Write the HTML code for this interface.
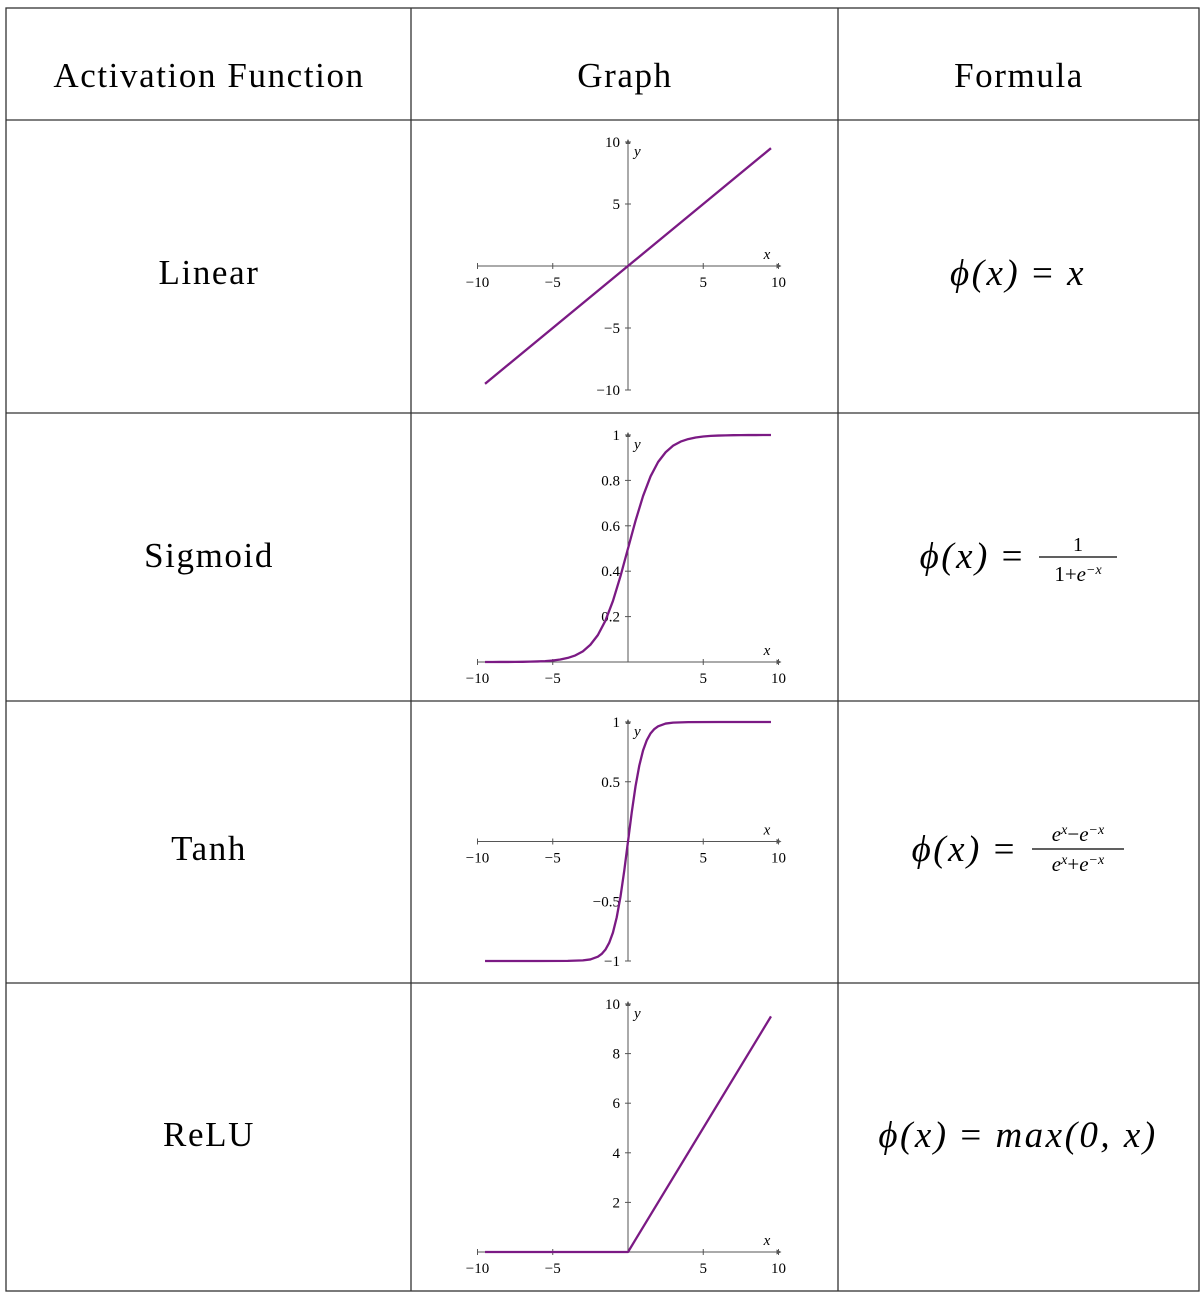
<!DOCTYPE html>
<html><head><meta charset="utf-8"><style>
html,body{margin:0;padding:0;background:#fff;}
svg{display:block;font-family:"Liberation Serif","DejaVu Serif",serif;}
</style></head><body>
<svg id="s" width="1204" height="1294" viewBox="0 0 1204 1294">
<g stroke="#333" stroke-width="1.3" fill="none">
<rect x="6" y="8" width="1193" height="1283"/>
<line x1="411" y1="8" x2="411" y2="1291"/>
<line x1="838" y1="8" x2="838" y2="1291"/>
<line x1="6" y1="120" x2="1199" y2="120"/>
<line x1="6" y1="413" x2="1199" y2="413"/>
<line x1="6" y1="701" x2="1199" y2="701"/>
<line x1="6" y1="983" x2="1199" y2="983"/>
</g>
<g font-size="35" letter-spacing="1.6" text-anchor="middle" fill="#000">
<text x="209" y="87">Activation Function</text>
<text x="625" y="87">Graph</text>
<text x="1019" y="87">Formula</text>
<text x="209" y="284">Linear</text>
<text x="209" y="567">Sigmoid</text>
<text x="209" y="860">Tanh</text>
<text x="209" y="1146">ReLU</text>
</g>
<g font-size="37" fill="#000" font-style="italic" letter-spacing="2.5">
<text x="1018" y="285" text-anchor="middle">ϕ(x) <tspan font-style="normal">=</tspan> x</text>
<text x="1025" y="568" text-anchor="end">ϕ(x) <tspan font-style="normal">=</tspan></text>
<text x="1078" y="551" font-size="20" letter-spacing="0" text-anchor="middle" font-style="normal">1</text>
<line x1="1039" y1="557" x2="1117" y2="557" stroke="#000" stroke-width="1.2"/>
<text x="1078" y="581" font-size="21" letter-spacing="0" text-anchor="middle"><tspan font-style="normal">1+</tspan>e<tspan font-size="14" dy="-7">−x</tspan></text>
<text x="1017" y="861" text-anchor="end">ϕ(x) <tspan font-style="normal">=</tspan></text>
<text x="1078" y="841" font-size="21" letter-spacing="0" text-anchor="middle">e<tspan font-size="14" dy="-7">x</tspan><tspan dy="7" font-style="normal">−</tspan>e<tspan font-size="14" dy="-7">−x</tspan></text>
<line x1="1032" y1="849" x2="1124" y2="849" stroke="#000" stroke-width="1.2"/>
<text x="1078" y="871" font-size="21" letter-spacing="0" text-anchor="middle">e<tspan font-size="14" dy="-7">x</tspan><tspan dy="7" font-style="normal">+</tspan>e<tspan font-size="14" dy="-7">−x</tspan></text>
<text x="1018" y="1147" text-anchor="middle">ϕ(x) <tspan font-style="normal">=</tspan> max(0, x)</text>
</g>
<g id="charts"></g>
</svg>
<script>
const xTicks=[-10,-5,5,10];
const linX=[-9.5,9.5];
const linY=[-9.5,9.5];
const linYTicks=[10,5,-5,-10];
const sigX=[-9.5,-9,-8.5,-8,-7.5,-7,-6.5,-6,-5.5,-5,-4.5,-4,-3.5,-3,-2.5,-2,-1.5,-1,-0.5,0,0.5,1,1.5,2,2.5,3,3.5,4,4.5,5,5.5,6,6.5,7,7.5,8,8.5,9,9.5];
const sigY=[0.0001,0.0001,0.0002,0.0003,0.0006,0.0009,0.0015,0.0025,0.004,0.0067,0.011,0.018,0.029,0.047,0.076,0.119,0.182,0.269,0.378,0.5,0.622,0.731,0.818,0.881,0.924,0.953,0.971,0.982,0.989,0.9933,0.996,0.9975,0.9985,0.9991,0.9994,0.9997,0.9998,0.9999,0.9999];
const sigYTicks=[0.2,0.4,0.6,0.8,1];
const tanhX=[-9.5,-6,-4,-3,-2.5,-2,-1.75,-1.5,-1.25,-1,-0.75,-0.5,-0.25,0,0.25,0.5,0.75,1,1.25,1.5,1.75,2,2.5,3,4,6,9.5];
const tanhY=[-1,-1,-0.999,-0.995,-0.987,-0.964,-0.941,-0.905,-0.848,-0.762,-0.635,-0.462,-0.245,0,0.245,0.462,0.635,0.762,0.848,0.905,0.941,0.964,0.987,0.995,0.999,1,1];
const tanhYTicks=[1,0.5,-0.5,-1];
const reluX=[-9.5,0,9.5];
const reluY=[0,0,9.5];
const reluYTicks=[2,4,6,8,10];

const NS="http://www.w3.org/2000/svg";
const root=document.getElementById('charts');
function mk(tag,attrs,parent){const e=document.createElementNS(NS,tag);for(const k in attrs)e.setAttribute(k,attrs[k]);parent.appendChild(e);return e;}
function fmt(v){return (v<0?'\u2212':'')+Math.abs(v);}
function chart(name,yTop,yBot,yMin,yMax,xs,ys,yTicks){
  const g=mk('g',{},root);
  
  
  const sx=v=>628+v*15.05;
  const sy=v=>yBot-(v-yMin)/(yMax-yMin)*(yBot-yTop);
  const y0=sy(0);
  const ax=mk('line',{x1:sx(-10),y1:y0,x2:sx(10)+2,y2:y0,stroke:'#555','stroke-width':1},g);
  
  
  mk('path',{d:`M${sx(10)+3},${y0} l-5,-2.5 l0,5z`,fill:'#555'},g);
  const ay=mk('line',{x1:628,y1:yBot,x2:628,y2:yTop-2,stroke:'#555','stroke-width':1},g);
  
  
  mk('path',{d:`M628,${yTop-3} l-2.5,5 l5,0z`,fill:'#555'},g);
  xTicks.forEach(t=>{
    mk('line',{x1:sx(t),y1:y0-3,x2:sx(t),y2:y0+3,stroke:'#555','stroke-width':1},g);
    const tx=mk('text',{x:sx(t),y:y0+21,'font-size':15,'text-anchor':'middle'},g);
    tx.textContent=fmt(t);
    
    
  });
  yTicks.forEach(t=>{
    const yy=sy(t);
    mk('line',{x1:625,y1:yy,x2:631,y2:yy,stroke:'#555','stroke-width':1},g);
    const tx=mk('text',{x:620,y:yy+5,'font-size':15,'text-anchor':'end'},g);
    tx.textContent=fmt(t);
    
    
  });
  const xl=mk('text',{x:767,y:y0-7,'font-size':15,'font-style':'italic','text-anchor':'middle'},g);
  xl.textContent='x';
  
  
  const yl=mk('text',{x:634,y:yTop+14,'font-size':15,'font-style':'italic'},g);
  yl.textContent='y';
  
  
  const d=xs.map((x,i)=>(i?'L':'M')+sx(x).toFixed(2)+','+sy(ys[i]).toFixed(2)).join(' ');
  const p=mk('path',{d:d,fill:'none',stroke:'#7b1a84','stroke-width':2.3,'stroke-linejoin':'round'},g);
  
  
}
chart('linear-graph',142,390,-10,10,linX,linY,linYTicks);
chart('sigmoid-graph',435,662,0,1,sigX,sigY,sigYTicks);
chart('tanh-graph',722,961,-1,1,tanhX,tanhY,tanhYTicks);
chart('relu-graph',1004,1252,0,10,reluX,reluY,reluYTicks);
</script>
</body></html>
